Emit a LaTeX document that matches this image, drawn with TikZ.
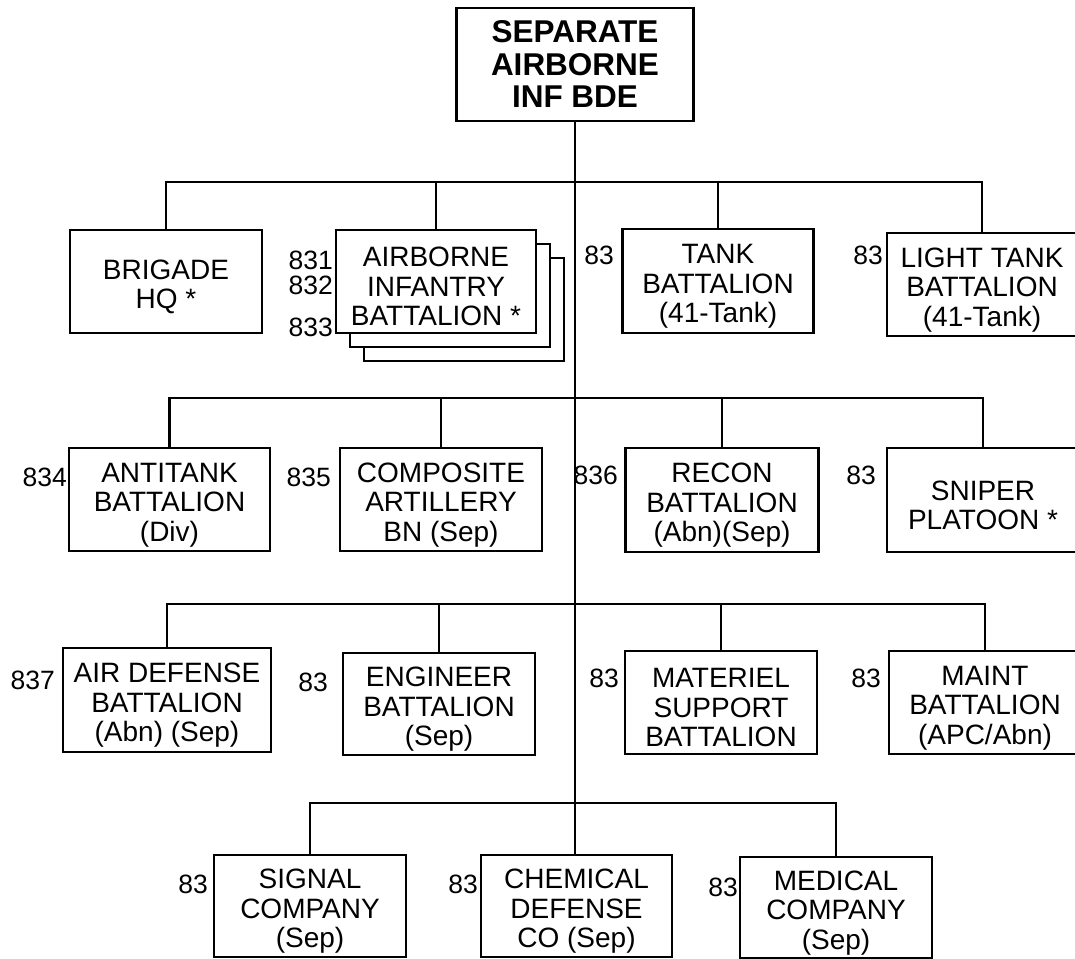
\documentclass[tikz,border=0pt]{standalone}
\usepackage{fontspec}
\setmainfont{Liberation Sans}
\newcommand\toppad{\rule{0pt}{30pt}}
\begin{document}
\begin{tikzpicture}[x=1pt,y=-1pt,
  unitbox/.style={draw, line width=2.7pt, fill=white, inner sep=0pt, align=center,
    font=\fontsize{28}{29.5}\selectfont},
  emptybox/.style={draw, line width=2.7pt, fill=white, inner sep=0pt},
  topbox/.style={draw, line width=2.7pt, fill=white, inner sep=0pt, align=center,
    font=\bfseries\fontsize{31.5}{32.5}\selectfont},
  conn/.style={line width=2.3pt},
  numlabel/.style={anchor=east, inner sep=0pt, font=\fontsize{26.5}{28}\selectfont}]
\useasboundingbox (0,0) rectangle (1075,958);

% top
\node[topbox, minimum width=237pt, minimum height=113pt] (top) at (575,64.5)
  {SEPARATE\\AIRBORNE\\INF BDE};

% row 1
\node[unitbox, minimum width=192pt, minimum height=103pt] (brig) at (166,281.5) {\toppad BRIGADE\\HQ *};
\node[emptybox, minimum width=200pt, minimum height=103pt] (abnC) at (464,309.5) {};
\node[emptybox, minimum width=200pt, minimum height=103pt] (abnB) at (450,295.5) {};
\node[unitbox, minimum width=200pt, minimum height=103pt] (abn) at (436,281.5) {\toppad AIRBORNE\\INFANTRY\\BATTALION *};
\node[unitbox, minimum width=191pt, minimum height=104pt] (tank) at (718,281) {\toppad TANK\\BATTALION\\(41-Tank)};
\node[unitbox, minimum width=190pt, minimum height=103pt] (ltank) at (982,284.5) {\toppad LIGHT TANK\\BATTALION\\(41-Tank)};

% row 2
\node[unitbox, minimum width=201pt, minimum height=103pt] (atk) at (169.5,499.5) {\toppad ANTITANK\\BATTALION\\(Div)};
\node[unitbox, minimum width=202pt, minimum height=103pt] (comp) at (441,499.5) {\toppad COMPOSITE\\ARTILLERY\\BN (Sep)};
\node[unitbox, minimum width=193pt, minimum height=104pt] (recon) at (722,500) {\toppad RECON\\BATTALION\\(Abn)(Sep)};
\node[unitbox, minimum width=192pt, minimum height=104pt] (sniper) at (983,500) {\toppad SNIPER\\PLATOON *};

% row 3
\node[unitbox, minimum width=208pt, minimum height=104pt] (ad) at (167,700) {\toppad AIR DEFENSE\\BATTALION\\(Abn) (Sep)};
\node[unitbox, minimum width=192pt, minimum height=102pt] (eng) at (439,704) {\toppad ENGINEER\\BATTALION\\(Sep)};
\node[unitbox, minimum width=192pt, minimum height=103pt] (mat) at (721,702.5) {\toppad MATERIEL\\SUPPORT\\BATTALION};
\node[unitbox, minimum width=192pt, minimum height=103pt] (maint) at (985,702.5) {\toppad MAINT\\BATTALION\\(APC/Abn)};

% row 4
\node[unitbox, minimum width=192pt, minimum height=102pt] (sig) at (310,906) {\toppad SIGNAL\\COMPANY\\(Sep)};
\node[unitbox, minimum width=191pt, minimum height=102pt] (chem) at (576.5,906) {\toppad CHEMICAL\\DEFENSE\\CO (Sep)};
\node[unitbox, minimum width=192pt, minimum height=101pt] (med) at (836,907.5) {\toppad MEDICAL\\COMPANY\\(Sep)};

% bus coordinates
\coordinate (b1) at (575,182);
\coordinate (b2) at (575,398);
\coordinate (b3) at (575,604);
\coordinate (b4) at (575,803);

% connectors
\draw[conn] (top.south) -- (top.south |- chem.north);
\draw[conn] (brig.north) |- (b1) -| (ltank.north);
\draw[conn] (abn.north) -- (abn.north |- b1);
\draw[conn] (tank.north) -- (tank.north |- b1);
\draw[conn] (atk.north) |- (b2) -| (sniper.north);
\draw[conn] (comp.north) -- (comp.north |- b2);
\draw[conn] (recon.north) -- (recon.north |- b2);
\draw[conn] (ad.north) |- (b3) -| (maint.north);
\draw[conn] (eng.north) -- (eng.north |- b3);
\draw[conn] (mat.north) -- (mat.north |- b3);
\draw[conn] (sig.north) |- (b4) -| (med.north);

% number labels
\node[numlabel] (l831) at (333,260) {831};
\node[numlabel] (l832) at (333,285) {832};
\node[numlabel] (l833) at (333,327) {833};
\node[numlabel] (ltank83) at (614,255) {83};
\node[numlabel] (lltank83) at (883,255) {83};
\node[numlabel] (l834) at (67,477) {834};
\node[numlabel] (l835) at (331,477) {835};
\node[numlabel] (l836) at (618,475) {836};
\node[numlabel] (lsnip) at (876,475) {83};
\node[numlabel] (l837) at (55,680) {837};
\node[numlabel] (leng) at (328,682) {83};
\node[numlabel] (lmat) at (619,678) {83};
\node[numlabel] (lmaint) at (881,678) {83};
\node[numlabel] (lsig) at (208,884) {83};
\node[numlabel] (lchem) at (478,884) {83};
\node[numlabel] (lmed) at (738,887) {83};
\end{tikzpicture}
\end{document}
